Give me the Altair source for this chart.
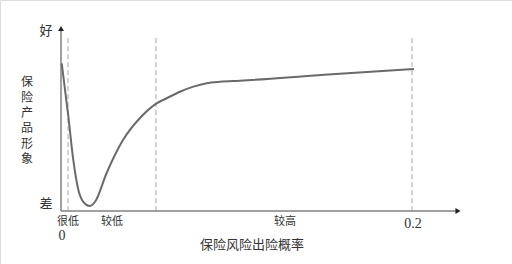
import altair as alt
import pandas as pd

# curve: risk probability vs. product image score (0 = 差, 100 = 好)
curve_x = [0.0004, 0.0042, 0.0070, 0.0099, 0.0127, 0.0165, 0.0194, 0.0260, 0.0353,
           0.0450, 0.0545, 0.0602, 0.0678, 0.0754, 0.0830, 0.0906, 0.1020, 0.1500, 0.2011]
curve_y = [81.6, 52.1, 28.2, 11.6, 5.1, 2.8, 5.1, 21.0, 39.2,
           51.4, 59.5, 62.3, 65.9, 68.7, 70.6, 71.4, 72.0, 75.3, 78.5]

dash_x = [0.004, 0.0541, 0.2]
dash_top = 96.1

x_labels = ["很低", "较低", "较高"]
x_label_pos = [0.004, 0.0291, 0.1276]
num_labels = ["0", "0.2"]
num_label_x = [0.0006, 0.2006]
num_label_y = [-13.8, -7.2]

y_labels = ["好", "差"]
y_label_y = [99.4, 3.9]

y_title_chars = ["保", "险", "产", "品", "形", "象"]
y_title_pos = [71.3, 62.7, 54.1, 45.6, 37.0, 28.5]
x_title = "保险风险出险概率"

XMIN, XMAX = -0.034758, 0.25698
YMIN, YMAX = -29.28, 116.57
x_axis_end = 0.2302
y_axis_end = 102.8

xs = alt.Scale(domain=[XMIN, XMAX], nice=False, zero=False)
ys = alt.Scale(domain=[YMIN, YMAX], nice=False, zero=False)
X = lambda f: alt.X(f, type="quantitative", scale=xs, axis=None)
Y = lambda f: alt.Y(f, type="quantitative", scale=ys, axis=None)

curve_df = pd.DataFrame({"x": curve_x, "y": curve_y})
curve = alt.Chart(curve_df).mark_line(color="#6a6a6a", strokeWidth=2, interpolate="monotone").encode(
    x=X("x"), y=Y("y"))

dash_df = pd.DataFrame({"x": dash_x, "y": [0] * 3, "y2": [dash_top] * 3})
dashes = alt.Chart(dash_df).mark_rule(color="#aaaaaa", strokeWidth=1, strokeDash=[5, 3]).encode(
    x=X("x"), y=Y("y"), y2="y2")

axes_df = pd.DataFrame({"x": [0, 0], "x2": [0, x_axis_end - 0.004], "y": [0, 0], "y2": [y_axis_end - 2, 0]})
axes = alt.Chart(axes_df).mark_rule(color="#808080", strokeWidth=1.5).encode(
    x=X("x"), x2="x2", y=Y("y"), y2="y2")

arrow_up = alt.Chart(pd.DataFrame({"x": [0], "y": [y_axis_end - 2]})).mark_point(
    shape="triangle-up", filled=True, size=35, color="#222222", opacity=1).encode(x=X("x"), y=Y("y"))
arrow_right = alt.Chart(pd.DataFrame({"x": [x_axis_end - 0.004], "y": [0]})).mark_point(
    shape="triangle-right", filled=True, size=35, color="#222222", opacity=1).encode(x=X("x"), y=Y("y"))

cjk = "Noto Sans CJK SC"
lab_df = pd.DataFrame({"x": x_label_pos, "y": [-6.1] * 3, "t": x_labels})
labs = alt.Chart(lab_df).mark_text(font=cjk, fontSize=11, color="#333333").encode(
    x=X("x"), y=Y("y"), text="t")

num_df = pd.DataFrame({"x": num_label_x, "y": num_label_y, "t": num_labels})
nums = alt.Chart(num_df).mark_text(font="Liberation Serif", fontSize=14, color="#333333").encode(
    x=X("x"), y=Y("y"), text="t")

yl_df = pd.DataFrame({"x": [-0.0085] * 2, "y": y_label_y, "t": y_labels})
ylabs = alt.Chart(yl_df).mark_text(font=cjk, fontSize=13, color="#333333").encode(
    x=X("x"), y=Y("y"), text="t")

yt_df = pd.DataFrame({"x": [-0.0194] * len(y_title_chars), "y": y_title_pos, "t": y_title_chars})
ytitle = alt.Chart(yt_df).mark_text(font=cjk, fontSize=12, color="#333333").encode(
    x=X("x"), y=Y("y"), text="t")

xt_df = pd.DataFrame({"x": [0.1088], "y": [-18.8], "t": [x_title]})
xtitle = alt.Chart(xt_df).mark_text(font=cjk, fontSize=13, color="#333333").encode(
    x=X("x"), y=Y("y"), text="t")

chart = alt.layer(dashes, axes, curve, arrow_up, arrow_right, labs, nums, ylabs, ytitle, xtitle).properties(
    width=512, height=264, autosize=alt.AutoSizeParams(type="none"), padding=0
).configure_view(stroke=None).configure(background="white")

chart.save("out.html", embed_options={"renderer": "svg", "actions": False})
